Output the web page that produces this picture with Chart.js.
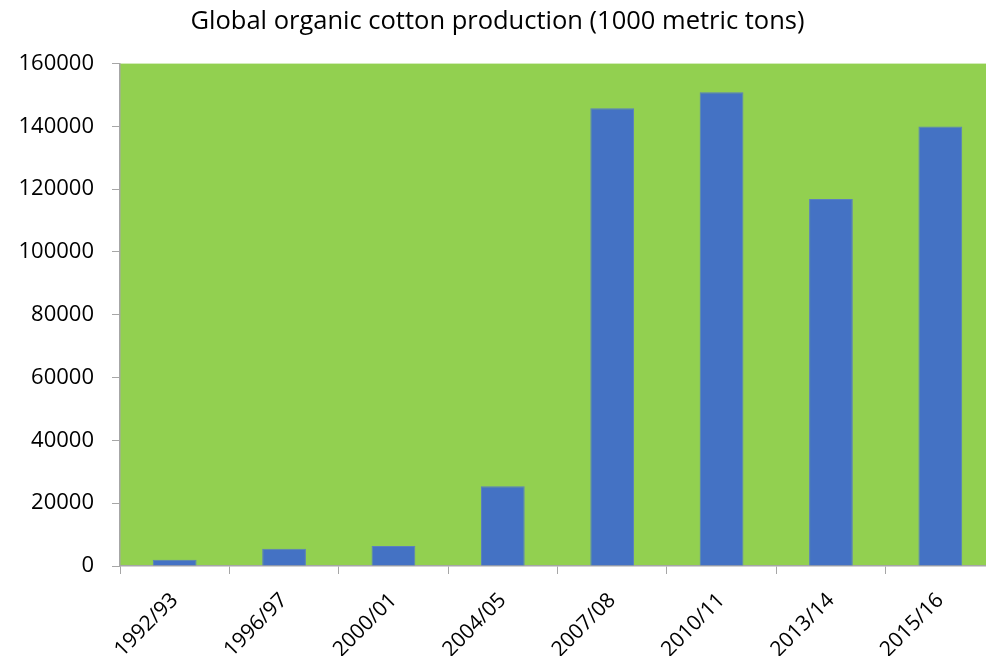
<!DOCTYPE html>
<html>
<head>
<meta charset="utf-8">
<script src="https://cdn.jsdelivr.net/npm/chart.js@4/dist/chart.umd.min.js"></script>
<style>
  html, body { margin: 0; padding: 0; background: #fff; overflow: hidden; }
  #wrap { width: 995px; height: 656px; }
</style>
</head>
<body>
<div id="wrap"><canvas id="cottonChart"></canvas></div>
<script>
  // data
  const seasons = ['1992/93', '1996/97', '2000/01', '2004/05', '2007/08', '2010/11', '2013/14', '2015/16'];
  const production = [2000, 5500, 6400, 25400, 145800, 150900, 116900, 140000];
  const yTicks = [0, 20000, 40000, 60000, 80000, 100000, 120000, 140000, 160000];

  const axisGrey = '#a6a6a6';
  const fontFamily = "'Open Sans', 'Liberation Sans', sans-serif";

  // green plot area fill
  const plotFill = {
    id: 'plotFill',
    beforeDraw(chart) {
      const a = chart.chartArea;
      const c = chart.ctx;
      c.save();
      c.fillStyle = '#92D050';
      c.fillRect(a.left, a.top, a.right - a.left, a.bottom - a.top);
      c.restore();
    }
  };

  const ctx = document.getElementById('cottonChart').getContext('2d');
  new Chart(ctx, {
    type: 'bar',
    data: {
      labels: seasons,
      datasets: [{
        label: 'Production',
        data: production,
        backgroundColor: '#4472C4',
        borderColor: '#5b7fc0',
        borderWidth: 1,
        categoryPercentage: 1,
        barPercentage: 0.4
      }]
    },
    options: {
      responsive: true,
      maintainAspectRatio: false,
      animation: false,
      layout: { padding: 0 },
      scales: {
        x: {
          offset: true,
          grid: {
            offset: true,
            drawOnChartArea: false,
            drawTicks: true,
            tickLength: 8,
            color: axisGrey
          },
          border: { color: axisGrey, width: 1.5 },
          ticks: {
            color: '#000',
            font: { family: fontFamily, size: 21 },
            maxRotation: 45,
            minRotation: 45,
            padding: 14
          },
          afterFit(scale) { scale.height = 90; }
        },
        y: {
          min: 0,
          max: 160000,
          afterBuildTicks(scale) { scale.ticks = yTicks.map(v => ({ value: v })); },
          grid: {
            drawOnChartArea: false,
            drawTicks: true,
            tickLength: 8,
            color: axisGrey
          },
          border: { color: axisGrey, width: 1.5 },
          ticks: {
            color: '#000',
            font: { family: fontFamily, size: 22 },
            padding: 18,
            callback: v => String(v)
          },
          afterFit(scale) { scale.width = 120; }
        }
      },
      plugins: {
        legend: { display: false },
        tooltip: { enabled: false },
        title: {
          display: true,
          text: 'Global organic cotton production (1000 metric tons)',
          color: '#000',
          font: { family: fontFamily, size: 25.5, weight: 'normal' },
          padding: { top: 6, bottom: 27 }
        }
      }
    },
    plugins: [plotFill]
  });
</script>
</body>
</html>
